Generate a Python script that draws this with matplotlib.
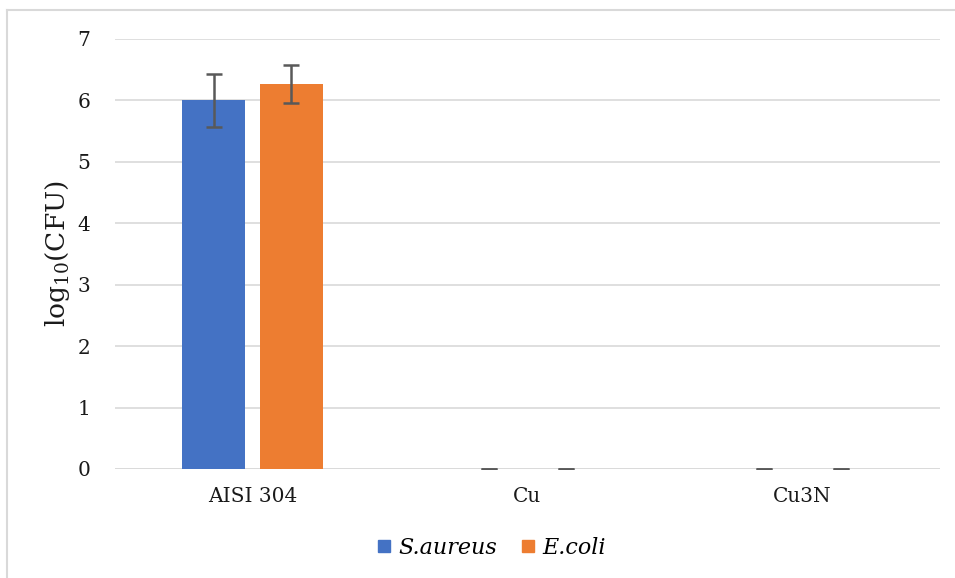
import matplotlib
matplotlib.use("Agg")
import matplotlib.pyplot as plt
from matplotlib.lines import Line2D
import numpy as np

categories = ["AISI 304", "Cu", "Cu3N"]
s_aureus = [6.0, 0.0, 0.0]
s_aureus_err = [0.43, 0.0, 0.0]
e_coli = [6.27, 0.0, 0.0]
e_coli_err = [0.31, 0.0, 0.0]
yticks = [0, 1, 2, 3, 4, 5, 6, 7]

blue = "#4472C4"
orange = "#ED7D31"
grid_c = "#D9D9D9"
text_c = "#1a1a1a"
font = "DejaVu Serif"

fig = plt.figure(figsize=(9.55, 5.78), dpi=100)
ax = fig.add_axes([115 / 955, 1 - 469 / 578, 825 / 955, 430 / 578])

x = np.arange(len(categories))
w = 0.2255
off = 0.1418
err_kw = dict(ecolor="#595959", elinewidth=1.8, capsize=6, capthick=1.8)
ax.bar(x - off, s_aureus, w, color=blue, yerr=s_aureus_err, error_kw=err_kw, zorder=3)
ax.bar(x + off, e_coli, w, color=orange, yerr=e_coli_err, error_kw=err_kw, zorder=3)

ax.set_xlim(-0.5, 2.5)
ax.set_ylim(0, 7)
ax.set_yticks(yticks)
ax.set_yticklabels([str(v) for v in yticks], fontfamily=font, fontsize=14.5, color=text_c)
ax.set_xticks(x)
ax.set_xticklabels(categories, fontfamily=font, fontsize=14.5, color=text_c)
ax.tick_params(axis="both", length=0)
ax.tick_params(axis="y", pad=18)
ax.tick_params(axis="x", pad=13)
ax.yaxis.grid(True, color=grid_c, linewidth=1.2, zorder=0)
for s in ax.spines.values():
    s.set_visible(False)
ax.axhline(0, color=grid_c, linewidth=1.2, zorder=1)

ax.set_ylabel(r"$\mathregular{log_{10}(CFU)}$", fontfamily=font, fontsize=19, color=text_c, labelpad=4)

handles = [Line2D([], [], marker="s", linestyle="none", markersize=8, color=blue),
           Line2D([], [], marker="s", linestyle="none", markersize=8, color=orange)]
fig.legend(handles, ["S.aureus", "E.coli"], loc="center", bbox_to_anchor=(491 / 955, 1 - 548 / 578),
           ncol=2, frameon=False, handlelength=0.7, handletextpad=0.3, columnspacing=1.0,
           prop={"family": font, "style": "italic", "size": 16})

# outer chart frame
fig.add_artist(Line2D([7 / 955, 7 / 955], [0, 1 - 10 / 578], color="#D9D9D9", linewidth=1.5, transform=fig.transFigure))
fig.add_artist(Line2D([7 / 955, 1], [1 - 10 / 578, 1 - 10 / 578], color="#D9D9D9", linewidth=1.5, transform=fig.transFigure))

fig.savefig("out.png", dpi=100, facecolor="white")
